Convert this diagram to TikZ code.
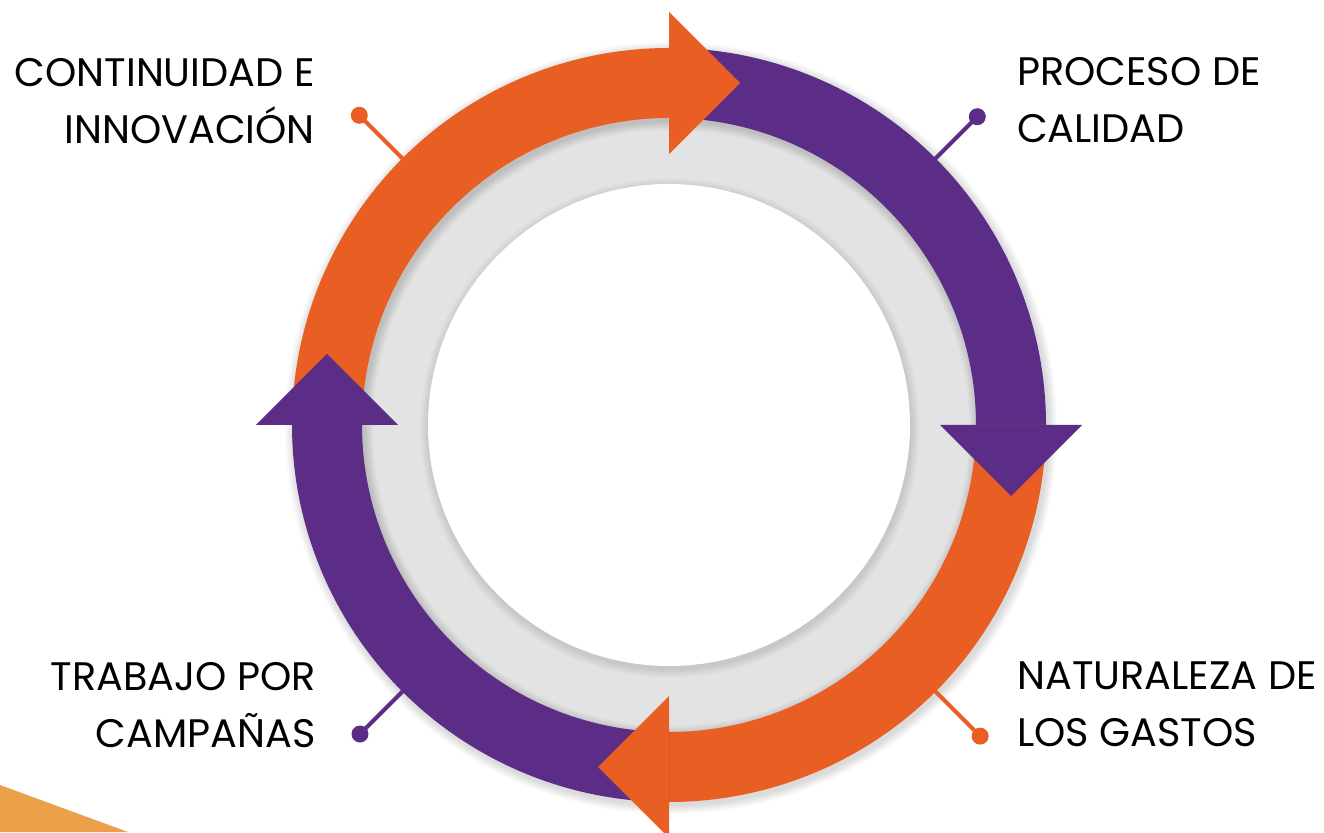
\documentclass[tikz,border=0pt]{standalone}
\usepackage{fontspec}
\setmainfont{Poppins}
\definecolor{cOrange}{HTML}{E95E22}
\definecolor{cPurple}{HTML}{5B2D86}
\definecolor{cGray}{HTML}{E3E3E3}
\definecolor{cCorner}{HTML}{EDA04A}
\tikzset{
  dotnode/.style={circle,inner sep=0pt,minimum size=17pt},
  leader/.style={line width=4pt},
  label/.style={inner sep=0pt,font=\fontsize{39.8}{57}\selectfont,text=black},
}
\begin{document}
\begin{tikzpicture}[x=1pt,y=1pt]
\useasboundingbox (0,0) rectangle (1324,832);
\fill[white] (0,0) rectangle (1324,832);
\fill[cCorner] (0,0) -- (0,47) -- (128,0) -- cycle;
\coordinate (c) at (669,407);
\begin{scope}[shift={(669,407)}]
  % outer soft shadow
  \foreach \k in {1,...,9} \fill[black,opacity=0.014] (2,-3) circle ({377+\k});
  % gray ring
  \fill[cGray] (0,0) circle (330);
  \foreach \k in {1,...,9} \fill[black,opacity=0.014,even odd rule] (2,-3) circle (330) circle ({307-\k});
  % white centre with soft shadow
  \foreach \k in {1,...,9} \fill[black,opacity=0.012] (1,-3) circle ({241+\k});
  \fill[white] (0,0) circle (241);
  \node[circle,inner sep=0pt,minimum size=482pt] (centre) at (0,0) {};
  % bands
  \fill[cOrange] (180:377) arc[start angle=180,end angle=89,radius=377] -- (89:307) arc[start angle=89,end angle=180,radius=307] -- cycle;
  \fill[cPurple] (90:377) arc[start angle=90,end angle=-1,radius=377] -- (-1:307) arc[start angle=-1,end angle=90,radius=307] -- cycle;
  \fill[cOrange] (0:377) arc[start angle=0,end angle=-91,radius=377] -- (-91:307) arc[start angle=-91,end angle=0,radius=307] -- cycle;
  \fill[cPurple] (-90:377) arc[start angle=-90,end angle=-181,radius=377] -- (-181:307) arc[start angle=-181,end angle=-90,radius=307] -- cycle;
  % arrow heads
  \fill[cOrange] (90:413) -- (71,342) -- (90:271) -- cycle;
  \fill[cPurple] (0:413) -- (342,-71) -- (0:271) -- cycle;
  \fill[cOrange] (270:413) -- (-71,-342) -- (270:271) -- cycle;
  \fill[cPurple] (180:413) -- (-342,71) -- (180:271) -- cycle;
  % leaders
  \coordinate (e1) at (135:376);
  \coordinate (e2) at (45:376);
  \coordinate (e3) at (-45:376);
  \coordinate (e4) at (-135:376);
  \node[dotnode,fill=cOrange] (d1) at (135:438) {};
  \node[dotnode,fill=cPurple] (d2) at (45:436) {};
  \node[dotnode,fill=cOrange] (d3) at (-45:440) {};
  \node[dotnode,fill=cPurple] (d4) at (-135:437) {};
  \draw[leader,cOrange] (e1) -- (d1.center);
  \draw[leader,cPurple] (e2) -- (d2.center);
  \draw[leader,cOrange] (e3) -- (d3.center);
  \draw[leader,cPurple] (e4) -- (d4.center);
\end{scope}
% labels
\node[label,align=right,anchor=north east] (t1) at (315,774) {CONTINUIDAD E\\INNOVACIÓN};
\node[label,align=left,anchor=north west] (t2) at (1017,775) {PROCESO DE\\CALIDAD};
\node[label,align=right,anchor=north east] (t4) at (316,170) {TRABAJO POR\\CAMPAÑAS};
\node[label,align=left,anchor=north west] (t3) at (1017,170) {NATURALEZA DE\\LOS GASTOS};
\end{tikzpicture}
\end{document}
